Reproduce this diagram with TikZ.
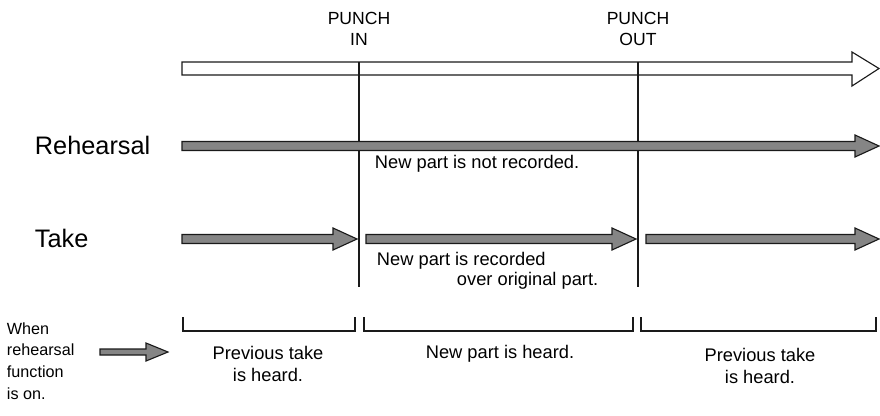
\documentclass[tikz,border=0pt]{standalone}
\usepackage{fontspec}
\setmainfont{Liberation Sans}
\usepackage{tikz}
\usetikzlibrary{positioning}
\definecolor{RHShade}{HTML}{858585}
\definecolor{RHEdge}{HTML}{1A1A1A}

\tikzset{
  shadearrow/.style={fill=RHShade,draw=RHEdge,line width=0.8pt,line join=miter},
  hollowarrow/.style={fill=white,draw=RHEdge,line width=0.8pt},
  punchline/.style={draw=RHEdge,line width=1.2pt},
  spanmark/.style={draw=RHEdge,line width=1pt},
  rowlabel/.style={anchor=west,font=\fontsize{18}{20}\selectfont},
  smalltext/.style={font=\fontsize{13}{16}\selectfont},
  punchtext/.style={font=\fontsize{12.5}{15}\selectfont},
  sidetext/.style={anchor=west,align=left,font=\fontsize{11.5}{15.4}\selectfont}
}
% gray arrow: #1 start x, #2 tip x, #3 centre y
\newcommand{\grayarrow}[3]{%
  \draw[shadearrow] (#1,#3-4.5) -- (#2-24,#3-4.5) -- (#2-24,#3-11) -- (#2,#3)
    -- (#2-24,#3+11) -- (#2-24,#3+4.5) -- (#1,#3+4.5) -- cycle;}

\begin{document}
\begin{tikzpicture}[x=0.025cm,y=-0.025cm]
\path[use as bounding box] (0,0) rectangle (880,415);
% time line
\draw[hollowarrow] (182,62) -- (852,62) -- (852,52) -- (879,68.5) -- (852,86)
  -- (852,75) -- (182,75) -- cycle;
\node[punchtext,align=center] (lblpunchin) at (359,29) {PUNCH\\IN};
\node[punchtext,align=center] (lblpunchout) at (638,29) {PUNCH\\OUT};
\coordinate (inTop) at (359,62);
\coordinate (inBot) at (359,287);
\coordinate (outTop) at (638,62);
\coordinate (outBot) at (638,287);
\draw[punchline] (inTop) -- (inBot);
\draw[punchline] (outTop) -- (outBot);
% rehearsal row
\node[rowlabel] (lblrehearsal) at (30,145) {Rehearsal};
\grayarrow{182}{879}{146}
\node[smalltext,anchor=west] (txtnotrec) at (370,164) {New part is not recorded.};
% take row
\node[rowlabel] (lbltake) at (30,238) {Take};
\grayarrow{182}{357}{239}
\grayarrow{366}{636}{239}
\grayarrow{646}{879}{239}
\node[smalltext,anchor=west] (txtrec) at (372,261) {New part is recorded};
\node[smalltext,anchor=west] (txtover) at (452,281) {over original part.};
% what is heard
\draw[spanmark] (183,317) -- (183,331) -- (355,331) -- (355,317);
\draw[spanmark] (364,317) -- (364,331) -- (633,331) -- (633,317);
\draw[spanmark] (641,317) -- (641,331) -- (876,331) -- (876,317);
\node[smalltext,align=center] (txtprev) at (268,364) {Previous take\\is heard.};
\node[smalltext] (txtnew) at (500,354) {New part is heard.};
\node[smalltext,align=center] (txtprevb) at (760,366) {Previous take\\is heard.};
\node[sidetext] (txtwhen) at (2,361) {When\\rehearsal\\function\\is on.};
\draw[shadearrow] (100,349) -- (146,349) -- (146,343) -- (168,352) -- (146,361)
  -- (146,355) -- (100,355) -- cycle;
\end{tikzpicture}
\end{document}
